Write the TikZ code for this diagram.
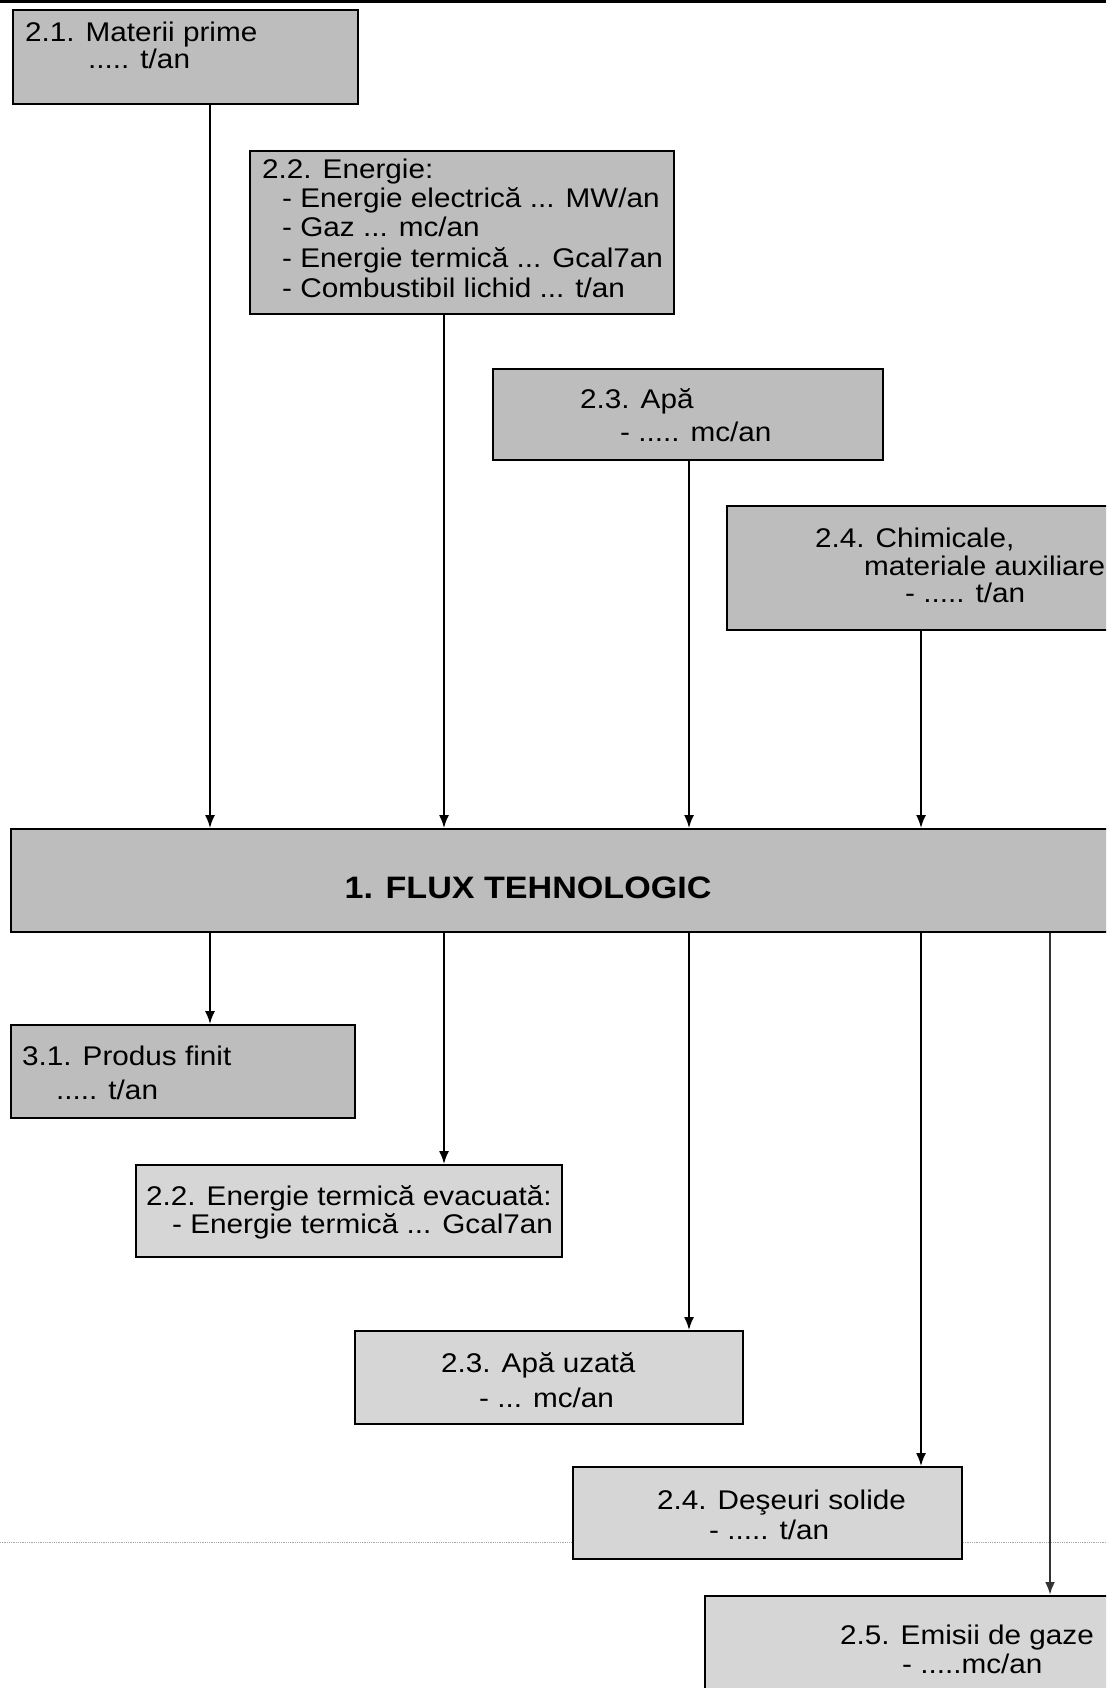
\documentclass[tikz,border=0pt]{standalone}
\usepackage{fontspec}
\setmainfont{Liberation Sans}
\newfontfamily\boxfont{Liberation Sans}[FakeStretch=1.1]
\usetikzlibrary{arrows.meta}
\definecolor{topfill}{gray}{0.74}
\definecolor{botfill}{gray}{0.84}
\tikzset{
  boxtop/.style={draw=black, line width=2pt, fill=topfill, inner sep=0pt},
  boxbot/.style={draw=black, line width=2pt, fill=botfill, inner sep=0pt},
  txt/.style={anchor=base west, inner sep=0pt, font=\boxfont\fontsize{27}{30}\selectfont},
  arr/.style={line width=1.7pt, -{Latex[length=13pt,width=10pt]}}
}
\begin{document}
\begin{tikzpicture}[x=1pt,y=-1pt]
\clip (0,0) rectangle (1106,1688);
\fill[white] (0,0) rectangle (1106,1688);
% top rule
\draw[line width=3pt] (0,2) -- (1106,2);
% faint dotted line
\draw[gray!70, line width=0.8pt, densely dotted] (0,1542) -- (1106,1542);
% coordinates for connector columns
\coordinate (c1) at (210,0);
\coordinate (c2) at (444,0);
\coordinate (c3) at (689,0);
\coordinate (c4) at (921,0);
\coordinate (c5) at (1050,0);
% input boxes
\node[boxtop, minimum width=345pt, minimum height=94pt] (b21) at (185.5,57) {};
\node[boxtop, minimum width=424pt, minimum height=163pt] (b22) at (462,232.5) {};
\node[boxtop, minimum width=390pt, minimum height=91pt] (b23) at (688,414.5) {};
\node[boxtop, minimum width=393pt, minimum height=124pt] (b24) at (923.5,568) {};
% central box
\node[boxtop, minimum width=1109pt, minimum height=103pt] (flux) at (565.5,880.5) {};
% output boxes
\node[boxtop, minimum width=344pt, minimum height=93pt] (b31) at (183,1071.5) {};
\node[boxbot, minimum width=426pt, minimum height=92pt] (b22e) at (349,1211) {};
\node[boxbot, minimum width=388pt, minimum height=93pt] (b23e) at (549,1377.5) {};
\node[boxbot, minimum width=389pt, minimum height=92pt] (b24e) at (767.5,1513) {};
\node[boxbot, minimum width=415pt, minimum height=104pt] (b25) at (912.5,1648) {};
% texts
\node[txt] (t21a) at (25,42) {2.1. Materii prime};
\node[txt] (t21b) at (88,69) {..... t/an};
\node[txt] (t22a) at (262,179) {2.2. Energie:};
\node[txt] (t22b) at (282,208) {- Energie electrică ... MW/an};
\node[txt] (t22c) at (282,237) {- Gaz ... mc/an};
\node[txt] (t22d) at (282,267) {- Energie termică ... Gcal7an};
\node[txt] (t22e) at (282,298) {- Combustibil lichid ... t/an};
\node[txt] (t23a) at (580,408) {2.3. Apă};
\node[txt] (t23b) at (620,441) {- ..... mc/an};
\node[txt] (t24a) at (815,547) {2.4. Chimicale,};
\node[txt] (t24b) at (864,575) {materiale auxiliare};
\node[txt] (t24c) at (905,602) {- ..... t/an};
\node[font=\boxfont\bfseries\fontsize{31}{34}\selectfont, inner sep=0pt] (tflux) at (528,888) {1. FLUX TEHNOLOGIC};
\node[txt] (t31a) at (22,1065) {3.1. Produs finit};
\node[txt] (t31b) at (56,1099) {..... t/an};
\node[txt] (t22ea) at (146,1205) {2.2. Energie termică evacuată:};
\node[txt] (t22eb) at (172,1233) {- Energie termică ... Gcal7an};
\node[txt] (t23ea) at (441,1372) {2.3. Apă uzată};
\node[txt] (t23eb) at (479,1407) {- ... mc/an};
\node[txt] (t24ea) at (657,1509) {2.4. Deşeuri solide};
\node[txt] (t24eb) at (709,1539) {- ..... t/an};
\node[txt] (t25a) at (840,1644) {2.5. Emisii de gaze};
\node[txt] (t25b) at (902,1673) {- .....mc/an};
% input connectors
\draw[arr] (b21.south -| c1) -- (flux.north -| c1);
\draw[arr] (b22.south -| c2) -- (flux.north -| c2);
\draw[arr] (b23.south -| c3) -- (flux.north -| c3);
\draw[arr] (b24.south -| c4) -- (flux.north -| c4);
% output connectors
\draw[arr] (flux.south -| c1) -- (b31.north -| c1);
\draw[arr] (flux.south -| c2) -- (b22e.north -| c2);
\draw[arr] (flux.south -| c3) -- (b23e.north -| c3);
\draw[arr] (flux.south -| c4) -- (b24e.north -| c4);
\draw[arr, line width=2.6pt, draw=black!80] (flux.south -| c5) -- (b25.north -| c5);
\end{tikzpicture}
\end{document}
